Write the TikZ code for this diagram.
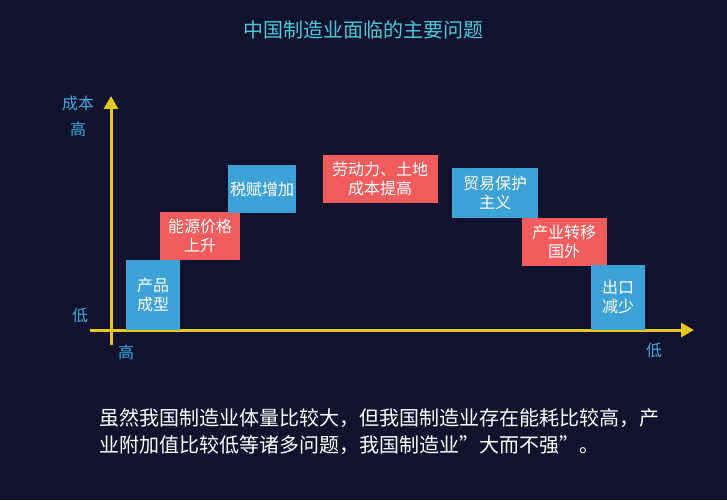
\documentclass[tikz,border=0pt]{standalone}
\usepackage{fontspec}
\setmainfont{Noto Sans CJK SC}
\usetikzlibrary{arrows.meta}
\begin{document}
\begin{tikzpicture}[x=1pt,y=-1pt,
  bx/.style={fill=#1,draw=none,text=white,align=center,font=\fontsize{16}{19}\selectfont,inner sep=0},
  lab/.style={text=axlab,font=\fontsize{16}{18}\selectfont},
  ]
\definecolor{bg}{HTML}{10122E}
\definecolor{bl}{HTML}{3DA2D8}
\definecolor{rd}{HTML}{F25C5C}
\definecolor{ax}{HTML}{E8C61E}
\definecolor{axlab}{HTML}{3FA9E0}
\definecolor{ttl}{HTML}{4FC6D8}
\fill[bg] (0,0) rectangle (727,500);
\useasboundingbox (0,0) rectangle (727,500);
\node[text=ttl,font=\fontsize{20}{22}\selectfont] (title) at (363,30) {中国制造业面临的主要问题};
\coordinate (ybot) at (111,345); \coordinate (ytop) at (111,96);
\coordinate (xl) at (90,330); \coordinate (xr) at (694,330);
\draw[ax,line width=3pt,-{Triangle[length=13pt,width=14pt]}] (ybot) -- (ytop);
\draw[ax,line width=3pt,-{Triangle[length=13pt,width=14pt]}] (xl) -- (xr);
\node[lab] (cb) at (78,103) {成本};
\node[lab] (g1) at (78,129) {高};
\node[lab] (d1) at (80,315) {低};
\node[lab] (g2) at (126,352) {高};
\node[lab] (d2) at (654,350) {低};
\node[bx=bl,minimum width=54pt,minimum height=70pt] (a) at (153,295) {产品\\成型};
\node[bx=rd,minimum width=80pt,minimum height=48pt] (b) at (200,236) {能源价格\\上升};
\node[bx=bl,minimum width=68pt,minimum height=48pt] (c) at (262,189) {税赋增加};
\node[bx=rd,minimum width=115pt,minimum height=48pt] (d) at (380,179) {劳动力、土地\\成本提高};
\node[bx=bl,minimum width=86pt,minimum height=50pt] (e) at (495,193) {贸易保护\\主义};
\node[bx=rd,minimum width=85pt,minimum height=48pt] (f) at (564,242) {产业转移\\国外};
\node[bx=bl,minimum width=54pt,minimum height=65pt] (g) at (618,297) {出口\\减少};
\node[text=white,anchor=north west,align=left,font=\fontsize{20}{27}\selectfont] (txt) at (96,405)
 {虽然我国制造业体量比较大，但我国制造业存在能耗比较高，产\\业附加值比较低等诸多问题，我国制造业\char"22 大而不强\char"22 。};
\end{tikzpicture}
\end{document}
